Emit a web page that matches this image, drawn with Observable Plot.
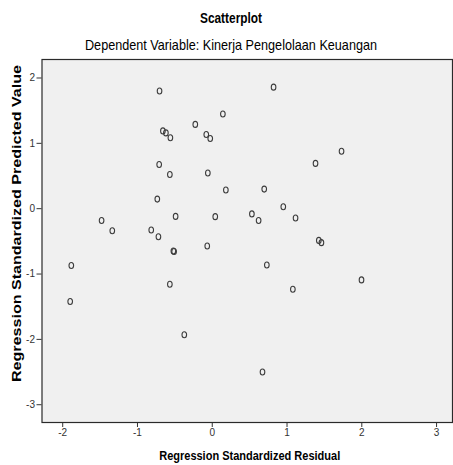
<!DOCTYPE html>
<html>
<head>
<meta charset="utf-8">
<script src="https://cdn.jsdelivr.net/npm/d3@7"></script>
<script src="https://cdn.jsdelivr.net/npm/@observablehq/plot@0.6"></script>
<style>
  html, body { margin: 0; padding: 0; background: #fff; }
  #chart svg { display: block; }
</style>
</head>
<body>
<div id="chart"></div>
<script>
const titleText = "Scatterplot";
const subtitleText = "Dependent Variable: Kinerja Pengelolaan Keuangan";
const xLabel = "Regression Standardized Residual";
const yLabel = "Regression Standardized Predicted Value";
const xTicks = [-2, -1, 0, 1, 2, 3];
const yTicks = [-3, -2, -1, 0, 1, 2];

// Regression Standardized Residual (x)
const residual = [
  -0.705, 0.82, 0.142, -0.227, -0.66, -0.62, -0.56, -0.08, -0.027, -0.71,
  -0.567, -0.059, 0.182, 0.695, -0.735, -0.49, 0.04, 0.53, 0.62, 1.114,
  -1.48, -1.337, -0.816, -0.72, 1.729, 1.381, 0.95, 1.425, 1.46, -0.52,
  -0.51, -0.067, -1.885, -1.90, -0.567, -0.374, 0.73, 1.078, 1.996, 0.672
];
// Regression Standardized Predicted Value (y)
const predicted = [
  1.80, 1.86, 1.45, 1.29, 1.19, 1.16, 1.085, 1.136, 1.075, 0.677,
  0.524, 0.545, 0.285, 0.30, 0.147, -0.118, -0.122, -0.08, -0.18, -0.143,
  -0.18, -0.337, -0.327, -0.43, 0.88, 0.693, 0.03, -0.485, -0.52, -0.648,
  -0.655, -0.57, -0.87, -1.42, -1.157, -1.93, -0.862, -1.234, -1.09, -2.50
];

const data = residual.map((x, i) => ({x, y: predicted[i]}));

// open oval marker like the original "o" glyph
const ovalSymbol = {
  draw(ctx) {
    const rx = 2.3, ry = 3.0, k = 0.5523;
    ctx.moveTo(0, -ry);
    ctx.bezierCurveTo(k * rx, -ry, rx, -k * ry, rx, 0);
    ctx.bezierCurveTo(rx, k * ry, k * rx, ry, 0, ry);
    ctx.bezierCurveTo(-k * rx, ry, -rx, k * ry, -rx, 0);
    ctx.bezierCurveTo(-rx, -k * ry, -k * rx, -ry, 0, -ry);
    ctx.closePath();
  }
};

const fmt = d => String(d);

const chart = Plot.plot({
  width: 453,
  height: 465,
  marginLeft: 41.5,
  marginRight: 1,
  marginTop: 59,
  marginBottom: 43,
  style: {fontFamily: "'Liberation Sans', Arial, sans-serif", fontSize: "10px", color: "#333", background: "#fff"},
  x: {domain: [-2.277, 3.213]},
  y: {domain: [-3.272, 2.283]},
  marks: [
    Plot.frame({fill: "#f0f0f0", stroke: "none"}),
    Plot.dot(data, {x: "x", y: "y", symbol: ovalSymbol, r: 3, stroke: "#3c3c3c", strokeWidth: 1.1, fill: "none"}),
    Plot.axisX(xTicks, {tickSize: 5, tickPadding: 1, tickFormat: fmt, label: null, stroke: "#333", fill: "#333"}),
    Plot.axisY(yTicks, {tickSize: 5, tickPadding: 2, tickFormat: fmt, label: null, stroke: "#333", fill: "#333"}),
    Plot.frame({stroke: "#2a2a2a", strokeWidth: 1.2})
  ]
});

document.getElementById("chart").appendChild(chart);

const svg = d3.select(chart);
const font = "'Liberation Sans', Arial, sans-serif";
function addText(txt, x, y, size, weight, len, rotate) {
  const t = svg.append("text")
    .attr("x", x).attr("y", y)
    .attr("text-anchor", "middle")
    .attr("font-family", font)
    .attr("font-size", size)
    .attr("font-weight", weight)
    .attr("fill", "#000")
    .attr("textLength", len)
    .attr("lengthAdjust", "spacingAndGlyphs")
    .text(txt);
  if (rotate) t.attr("transform", `rotate(-90, ${x}, ${y})`);
  return t;
}
addText(titleText, 231, 22.5, 14, "bold", 62);
addText(subtitleText, 231, 50, 14.5, "normal", 292);
addText(xLabel, 249.7, 459.5, 13.5, "bold", 181);
addText(yLabel, 20.5, 223.5, 12, "bold", 317, true);
</script>
</body>
</html>
